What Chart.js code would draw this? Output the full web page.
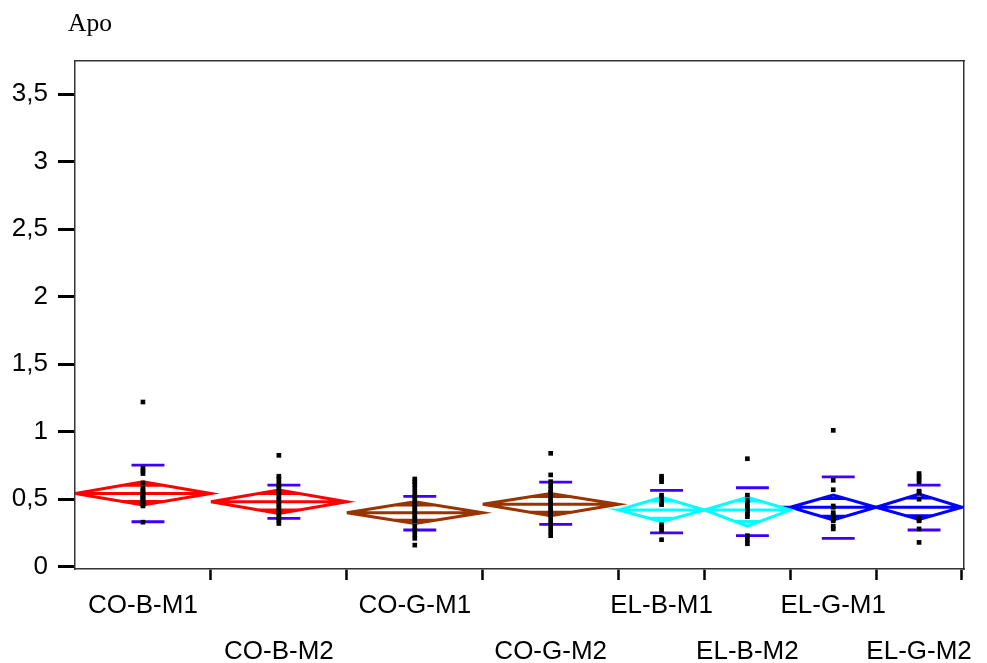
<!DOCTYPE html>
<html>
<head>
<meta charset="utf-8">
<script src="https://cdn.jsdelivr.net/npm/chart.js@4.4.1/dist/chart.umd.min.js"></script>
<style>
  html, body { margin: 0; padding: 0; background: #fff; }
  #wrap { position: relative; width: 987px; height: 663px; }
  #title {
    position: absolute; left: 68px; top: 10px;
    font: 25.5px/1 "Liberation Serif", "Times New Roman", serif;
    color: #000;
  }
</style>
</head>
<body>
<div id="wrap">
  <canvas id="chart" width="987" height="663"></canvas>
  <div id="title">Apo</div>
</div>
<script>
// ===== DATA =====
const groups = ["CO-B-M1", "CO-B-M2", "CO-G-M1", "CO-G-M2", "EL-B-M1", "EL-B-M2", "EL-G-M1", "EL-G-M2"];
const groupN = [19, 19, 19, 19, 12, 12, 12, 12];
const groupColors = ["#ff0000", "#ff0000", "#993300", "#993300", "#00ffff", "#00ffff", "#0000ff", "#0000ff"];

const means  = [0.543, 0.481, 0.400, 0.462, 0.420, 0.420, 0.440, 0.440];
const ciHigh = [0.629, 0.568, 0.481, 0.543, 0.514, 0.514, 0.531, 0.538];
const ciLow  = [0.457, 0.395, 0.321, 0.378, 0.333, 0.300, 0.346, 0.351];
const sdHigh = [0.753, 0.605, 0.521, 0.627, 0.566, 0.585, 0.666, 0.605];
const sdLow  = [0.333, 0.358, 0.272, 0.314, 0.250, 0.230, 0.210, 0.272];

const values = [
    [1.22, 0.73, 0.71, 0.69, 0.62, 0.58, 0.57, 0.55, 0.54, 0.53, 0.52, 0.51, 0.50, 0.49, 0.48, 0.47, 0.46, 0.45, 0.33],
    [0.825, 0.67, 0.65, 0.62, 0.60, 0.58, 0.56, 0.54, 0.52, 0.50, 0.48, 0.46, 0.44, 0.42, 0.40, 0.38, 0.36, 0.34, 0.32],
    [0.65, 0.63, 0.61, 0.58, 0.55, 0.52, 0.49, 0.46, 0.44, 0.42, 0.40, 0.38, 0.36, 0.34, 0.30, 0.27, 0.24, 0.21, 0.16],
    [0.84, 0.68, 0.63, 0.60, 0.57, 0.55, 0.52, 0.50, 0.48, 0.46, 0.44, 0.42, 0.40, 0.38, 0.35, 0.32, 0.29, 0.26, 0.23],
    [0.67, 0.65, 0.63, 0.53, 0.51, 0.49, 0.47, 0.46, 0.31, 0.29, 0.27, 0.20],
    [0.80, 0.53, 0.49, 0.47, 0.45, 0.43, 0.41, 0.39, 0.37, 0.23, 0.20, 0.17],
    [1.01, 0.64, 0.57, 0.45, 0.44, 0.40, 0.38, 0.36, 0.35, 0.34, 0.30, 0.28],
    [0.69, 0.67, 0.65, 0.63, 0.56, 0.55, 0.50, 0.36, 0.35, 0.34, 0.28, 0.18]
];

const yTicks = [0, 0.5, 1, 1.5, 2, 2.5, 3, 3.5];

// ===== GEOMETRY (x units = observations) =====
const lefts = [];
let acc = 0;
groupN.forEach(n => { lefts.push(acc); acc += n; });
const total = acc;
const rights = lefts.map((l, i) => l + groupN[i]);
const centers = lefts.map((l, i) => l + groupN[i] / 2);

const sdHalf = 2.3;     // half width of std dev bars
const sdShift = 0.7;    // bars sit a little right of the centre

// ===== DATASETS =====
const datasets = [];

groups.forEach((g, i) => {
    const L = lefts[i], R = rights[i], c = centers[i], m = means[i];
    const hw = (R - L) / 2;
    const k = hw * (1 - Math.SQRT1_2);
    const upY = m + (ciHigh[i] - m) * Math.SQRT1_2;
    const loY = m - (m - ciLow[i]) * Math.SQRT1_2;
    datasets.push({
        label: g,
        data: [
            { x: L, y: m }, { x: c, y: ciHigh[i] }, { x: R, y: m }, { x: c, y: ciLow[i] }, { x: L, y: m }, { x: R, y: m },
            { x: c, y: null },
            { x: c - k, y: upY }, { x: c + k, y: upY },
            { x: c, y: null },
            { x: c - k, y: loY }, { x: c + k, y: loY }
        ],
        showLine: true,
        spanGaps: false,
        borderColor: groupColors[i],
        borderWidth: 3,
        pointRadius: 0,
        order: 3
    });
});

const sdData = [];
groups.forEach((g, i) => {
    const c = centers[i] + sdShift;
    sdData.push({ x: c - sdHalf, y: sdHigh[i] }, { x: c + sdHalf, y: sdHigh[i] }, { x: c, y: null });
    sdData.push({ x: c - sdHalf, y: sdLow[i] }, { x: c + sdHalf, y: sdLow[i] }, { x: c, y: null });
});
datasets.push({
    label: "Std Dev",
    data: sdData,
    showLine: true,
    spanGaps: false,
    borderColor: "#3d00ff",
    borderWidth: 2.8,
    pointRadius: 0,
    order: 2
});

const pts = [];
values.forEach((arr, i) => arr.forEach(v => pts.push({ x: centers[i], y: v })));
datasets.push({
    label: "Apo",
    data: pts,
    showLine: false,
    pointStyle: "rect",
    pointRadius: 3.3,
    pointBorderWidth: 0,
    pointBackgroundColor: "#000",
    order: 1
});

// ===== CHART =====
const sans = "'Liberation Sans', Arial, Helvetica, sans-serif";

new Chart(document.getElementById("chart"), {
    type: "scatter",
    data: { datasets },
    options: {
        responsive: false,
        animation: false,
        events: [],
        layout: { padding: { left: 0, right: 23, top: 61, bottom: 0 } },
        plugins: {
            legend: { display: false },
            tooltip: { enabled: false }
        },
        scales: {
            x: {
                type: "linear",
                position: "bottom",
                min: 0,
                max: total + 0.28,
                afterBuildTicks: s => {
                    s.ticks = rights.concat(centers).sort((a, b) => a - b).map(v => ({ value: v }));
                },
                afterFit: s => { s.height = 94; },
                ticks: {
                    autoSkip: false,
                    maxRotation: 0,
                    minRotation: 0,
                    padding: 3,
                    color: "#000",
                    font: { family: sans, size: 26, lineHeight: 1.77 },
                    callback: v => {
                        const i = centers.indexOf(v);
                        if (i < 0) return "";
                        return i % 2 ? ["", groups[i]] : groups[i];
                    }
                },
                grid: {
                    drawOnChartArea: false,
                    drawTicks: true,
                    tickLength: 11,
                    tickWidth: 2.5,
                    tickColor: ctx => (ctx.tick && centers.includes(ctx.tick.value)) ? "rgba(0,0,0,0)" : "#000"
                },
                border: { display: true, color: "#333", width: 1.5 }
            },
            y: {
                type: "linear",
                position: "left",
                min: -0.017,
                max: 3.746,
                afterBuildTicks: s => { s.ticks = yTicks.map(v => ({ value: v })); },
                afterFit: s => { s.width = 75; },
                ticks: {
                    padding: 10,
                    color: "#000",
                    font: { family: sans, size: 26 },
                    callback: v => String(v).replace(".", ",")
                },
                grid: {
                    drawOnChartArea: false,
                    drawTicks: true,
                    tickLength: 17,
                    tickWidth: 3,
                    tickColor: "#000"
                },
                border: { display: true, color: "#333", width: 1.5 }
            },
            xTop: {
                type: "linear",
                position: "top",
                ticks: { display: false },
                grid: { display: false },
                border: { display: true, color: "#333", width: 1.5 },
                afterFit: s => { s.height = 0; }
            },
            yRight: {
                type: "linear",
                position: "right",
                ticks: { display: false },
                grid: { display: false },
                border: { display: true, color: "#333", width: 1.5 },
                afterFit: s => { s.width = 0; }
            }
        }
    }
});
</script>
</body>
</html>
